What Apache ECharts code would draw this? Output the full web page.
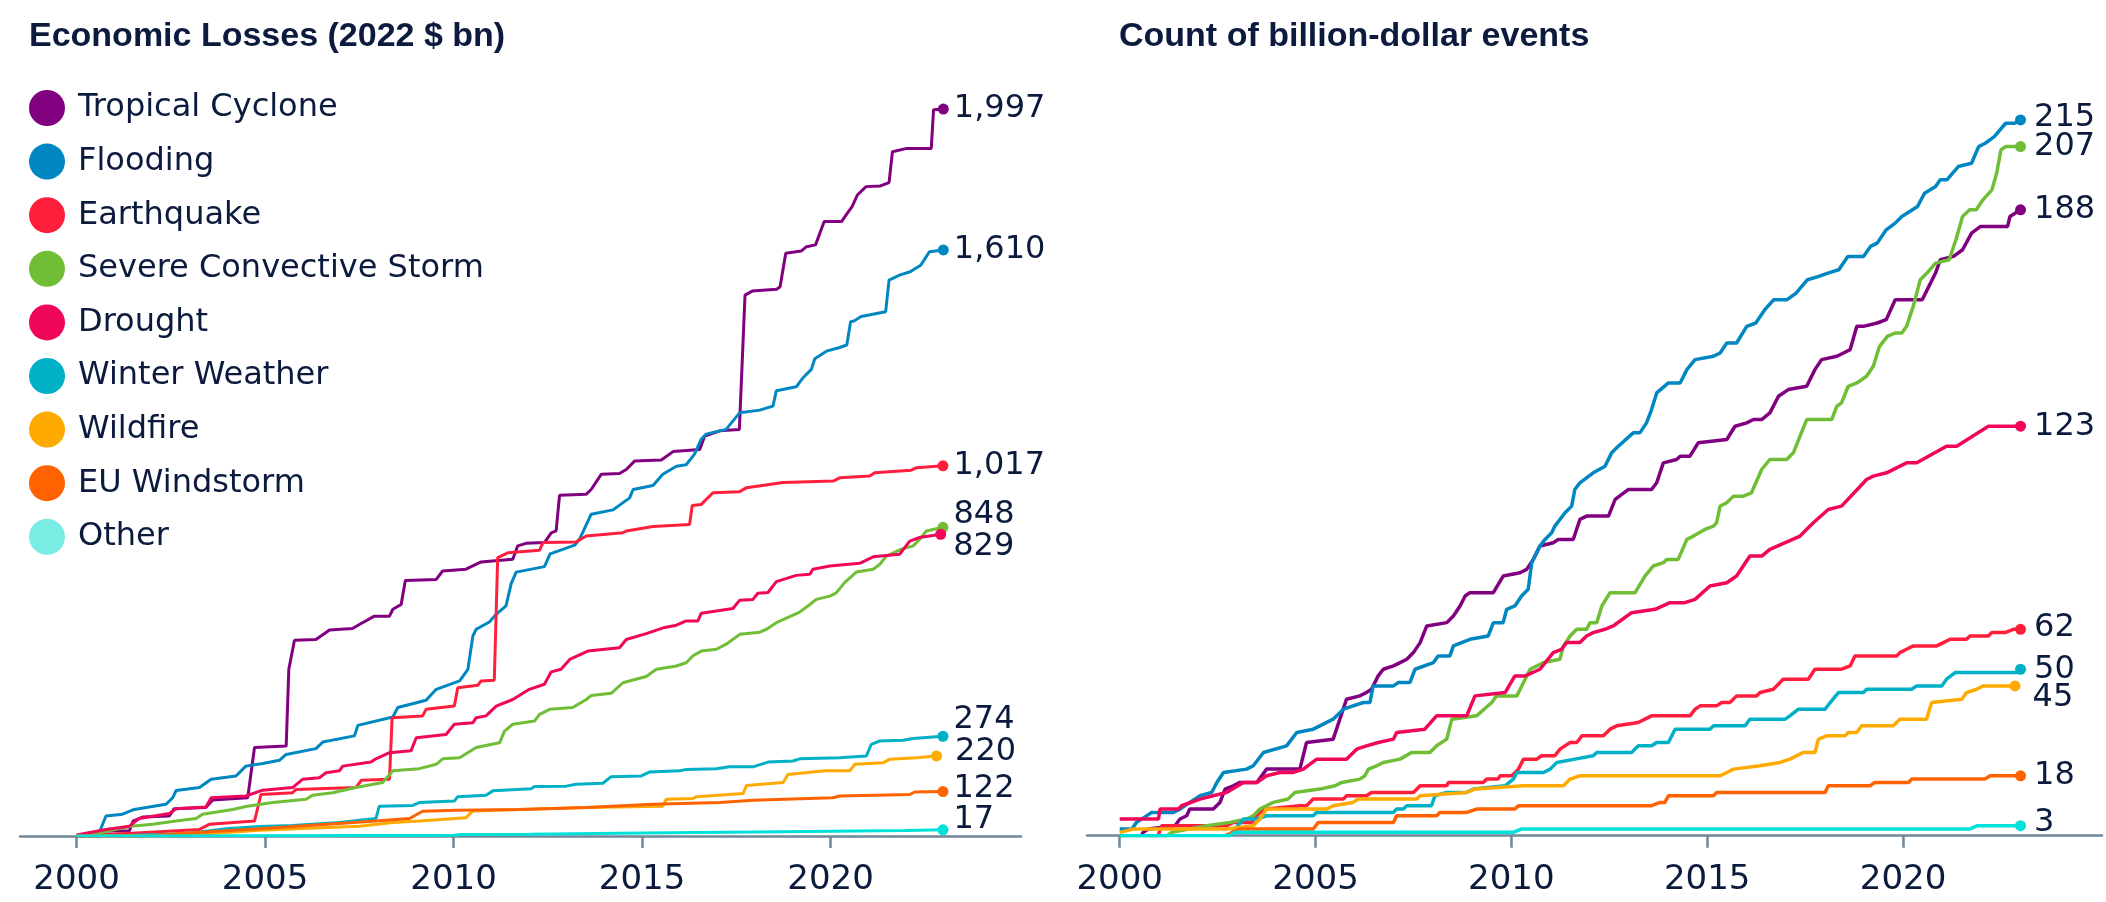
<!DOCTYPE html>
<html>
<head>
<meta charset="utf-8">
<title>Economic losses and billion-dollar events</title>
<script src="https://cdn.jsdelivr.net/npm/echarts@6/dist/echarts.min.js"></script>
<style>
  html, body { margin: 0; padding: 0; background: #fff; }
  #chart { width: 2106px; height: 902px; }
</style>
</head>
<body>
<div id="chart"></div>
<script>
var chart = echarts.init(document.getElementById('chart'));

// perils, same order in both panels
var perilNames = ['Tropical Cyclone', 'Flooding', 'Earthquake', 'Severe Convective Storm', 'Drought',
  'Winter Weather', 'Wildfire', 'EU Windstorm', 'Other'];
var perilColors = ['#800080', '#0087c1', '#ff1f3d', '#6fbe36', '#f0065a',
  '#00b0c6', '#ffaa00', '#ff6200', '#00e1d9'];
var yearTicks = [2000, 2005, 2010, 2015, 2020];

// cumulative economic losses, 2022 $ bn  [year, value]
var lossTropicalCyclone = [[2000,0],[2000.56,0],[2000.65,14],[2001.40,14],[2001.50,41],[2001.75,52],[2002.46,55],[2002.59,75],[2003.43,78],[2003.61,99],[2004.54,105],[2004.72,243],[2005.56,247],[2005.63,458],[2005.78,538],[2006.35,540],[2006.71,566],[2007.32,570],[2007.50,581],[2007.90,604],[2008.30,604],[2008.39,623],[2008.61,636],[2008.72,702],[2009.54,705],[2009.71,728],[2010.33,733],[2010.73,753],[2011.57,760],[2011.70,797],[2011.92,804],[2012.41,806],[2012.59,833],[2012.72,838],[2012.81,936],[2013.52,939],[2013.65,952],[2013.92,994],[2014.40,996],[2014.58,1007],[2014.80,1030],[2015.51,1033],[2015.82,1056],[2016.53,1062],[2016.66,1099],[2017.06,1113],[2017.58,1117],[2017.73,1486],[2017.92,1497],[2018.57,1502],[2018.66,1509],[2018.81,1601],[2019.22,1607],[2019.36,1619],[2019.60,1624],[2019.83,1688],[2020.29,1688],[2020.43,1709],[2020.57,1729],[2020.71,1761],[2020.94,1784],[2021.32,1786],[2021.55,1795],[2021.64,1880],[2022.02,1889],[2022.67,1889],[2022.73,1995],[2022.99,1997]];
var lossFlooding = [[2000,0],[2000.60,9],[2000.78,55],[2001.22,60],[2001.53,73],[2002.37,87],[2002.55,105],[2002.64,125],[2003.26,133],[2003.57,156],[2004.23,165],[2004.49,192],[2004.94,199],[2005.38,208],[2005.56,224],[2006.35,240],[2006.53,258],[2007.37,275],[2007.46,304],[2008.39,327],[2008.52,353],[2009.27,373],[2009.54,403],[2010.16,426],[2010.38,458],[2010.51,549],[2010.60,568],[2010.95,588],[2011.13,609],[2011.39,632],[2011.53,694],[2011.66,725],[2012.41,740],[2012.56,775],[2013.21,799],[2013.34,815],[2013.65,884],[2014.23,896],[2014.67,929],[2014.76,952],[2015.29,963],[2015.55,994],[2015.91,1016],[2016.17,1020],[2016.39,1049],[2016.57,1090],[2016.70,1104],[2017.23,1117],[2017.59,1163],[2018.12,1170],[2018.47,1181],[2018.56,1223],[2019.09,1234],[2019.27,1259],[2019.49,1282],[2019.58,1311],[2019.89,1332],[2020.24,1342],[2020.43,1349],[2020.53,1413],[2020.62,1415],[2020.81,1427],[2021.46,1440],[2021.55,1527],[2021.83,1541],[2022.11,1550],[2022.39,1568],[2022.48,1582],[2022.62,1605],[2022.99,1610]];
var lossEarthquake = [[2000,0],[2000.96,5],[2002.19,12],[2003.26,18],[2003.52,32],[2004.72,41],[2004.89,114],[2005.73,119],[2005.82,128],[2007.41,133],[2007.55,153],[2008.30,156],[2008.37,325],[2009.18,330],[2009.27,348],[2010.02,357],[2010.11,407],[2010.64,414],[2010.73,426],[2011.08,428],[2011.17,765],[2011.44,778],[2012.28,785],[2012.37,806],[2013.25,808],[2013.52,824],[2014.49,833],[2014.58,838],[2015.29,850],[2016.26,856],[2016.33,908],[2016.57,911],[2016.88,943],[2017.59,946],[2017.77,957],[2018.74,971],[2020.07,975],[2020.24,984],[2021.04,989],[2021.17,998],[2022.14,1005],[2022.28,1012],[2022.98,1017]];
var lossConvectiveStorm = [[2000,0],[2000.42,5],[2001.44,27],[2002.02,32],[2002.64,41],[2003.17,48],[2003.34,60],[2004.14,73],[2004.49,81],[2005.20,92],[2006.09,101],[2006.26,112],[2006.79,119],[2007.41,133],[2008.12,147],[2008.39,179],[2009.09,185],[2009.54,197],[2009.71,212],[2010.16,215],[2010.60,243],[2011.22,256],[2011.35,288],[2011.57,307],[2012.15,316],[2012.28,334],[2012.55,348],[2013.16,353],[2013.52,375],[2013.65,386],[2014.18,392],[2014.49,421],[2015.11,438],[2015.38,458],[2015.91,467],[2016.17,476],[2016.35,495],[2016.57,508],[2016.97,513],[2017.23,527],[2017.59,554],[2018.12,560],[2018.30,568],[2018.56,586],[2019.18,615],[2019.45,636],[2019.62,650],[2019.98,659],[2020.15,668],[2020.37,696],[2020.68,725],[2021.13,733],[2021.30,746],[2021.48,769],[2021.88,788],[2022.19,797],[2022.36,815],[2022.54,838],[2022.98,848]];
var lossDrought = [[2000,3],[2000.78,18],[2001.40,27],[2001.66,48],[2002.46,62],[2002.64,75],[2003.43,80],[2003.57,105],[2004.49,110],[2004.94,126],[2005.73,133],[2006.00,156],[2006.44,160],[2006.62,174],[2006.97,179],[2007.06,192],[2007.81,203],[2007.94,212],[2008.30,229],[2008.87,234],[2009.01,270],[2009.80,279],[2010.02,307],[2010.51,311],[2010.60,325],[2010.86,330],[2011.13,357],[2011.57,375],[2012.01,403],[2012.41,417],[2012.59,451],[2012.85,458],[2013.08,485],[2013.56,508],[2014.40,517],[2014.58,540],[2015.11,556],[2015.60,573],[2015.91,579],[2016.17,591],[2016.48,591],[2016.57,612],[2017.41,625],[2017.59,648],[2017.94,650],[2018.07,667],[2018.34,669],[2018.56,699],[2019.09,716],[2019.45,719],[2019.53,733],[2019.98,742],[2020.77,749],[2021.13,767],[2021.83,774],[2022.10,810],[2022.36,820],[2022.92,829]];
var lossWinterWeather = [[2000,0],[2001.50,2],[2002.90,6],[2003.96,20],[2004.85,26],[2005.73,29],[2006.97,37],[2007.94,48],[2008.03,82],[2008.92,84],[2009.09,92],[2010.02,96],[2010.11,108],[2010.86,112],[2011.04,124],[2012.06,130],[2012.15,136],[2012.99,137],[2013.25,142],[2013.96,145],[2014.18,163],[2014.98,165],[2015.20,176],[2015.99,179],[2016.17,183],[2016.97,185],[2017.32,190],[2017.94,190],[2018.34,203],[2019.00,206],[2019.18,212],[2020.24,215],[2020.95,220],[2021.08,252],[2021.30,261],[2021.92,263],[2022.19,268],[2022.98,274]];
var lossWildfire = [[2000,0],[2002.90,2],[2004.85,16],[2007.50,27],[2008.39,37],[2009.09,41],[2010.33,50],[2010.51,69],[2011.75,73],[2013.52,78],[2015.55,82],[2015.64,101],[2016.35,103],[2016.44,108],[2017.68,117],[2017.77,139],[2018.74,147],[2018.87,169],[2019.84,179],[2020.51,179],[2020.64,197],[2021.39,201],[2021.57,211],[2022.28,215],[2022.81,220]];
var lossWindstorm = [[2000,0],[2001.75,0],[2003.08,9],[2004.85,20],[2007.06,35],[2007.94,41],[2008.83,48],[2009.18,68],[2010.07,71],[2011.75,73],[2013.52,78],[2015.29,87],[2017.06,92],[2017.94,98],[2020.06,105],[2020.24,110],[2022.10,114],[2022.23,121],[2022.98,122]];
var lossOther = [[2000,0],[2005,1],[2010,2],[2010.2,4],[2012,5],[2015,8],[2018,11],[2020,13],[2022,15],[2022.98,17]];

// cumulative count of billion-dollar events  [year, count]
var countTropicalCyclone = [[2000.55,0],[2000.60,1],[2000.73,2],[2001.41,3],[2001.54,5],[2001.71,6],[2001.79,8],[2002.39,8],[2002.56,10],[2002.69,14],[2002.90,15],[2003.07,16],[2003.50,16],[2003.75,20],[2004.60,20],[2004.77,28],[2005.45,29],[2005.62,35],[2005.79,41],[2006.13,42],[2006.30,43],[2006.43,44],[2006.60,48],[2006.73,50],[2006.99,51],[2007.16,52],[2007.33,53],[2007.50,55],[2007.67,58],[2007.84,63],[2008.35,64],[2008.52,66],[2008.69,69],[2008.82,72],[2008.94,73],[2009.54,73],[2009.79,78],[2010.22,79],[2010.39,80],[2010.56,83],[2010.73,87],[2011.07,88],[2011.20,89],[2011.58,89],[2011.75,95],[2011.92,96],[2012.48,96],[2012.65,101],[2012.99,104],[2013.58,104],[2013.71,106],[2013.88,112],[2014.22,113],[2014.31,114],[2014.56,114],[2014.77,118],[2015.50,119],[2015.71,123],[2016.01,124],[2016.18,125],[2016.39,125],[2016.60,127],[2016.82,132],[2017.07,134],[2017.54,135],[2017.75,140],[2017.92,143],[2018.31,144],[2018.48,145],[2018.65,146],[2018.82,153],[2018.99,153],[2019.34,154],[2019.57,155],[2019.80,161],[2020.49,161],[2020.66,165],[2020.83,169],[2020.95,173],[2021.29,174],[2021.52,176],[2021.75,181],[2021.98,183],[2022.67,183],[2022.73,186],[2023.00,188]];
var countFlooding = [[2000,2],[2000.31,2],[2000.43,4],[2000.82,7],[2001.37,7],[2001.54,8],[2001.79,10],[2002.05,12],[2002.35,13],[2002.48,16],[2002.65,19],[2003.24,20],[2003.41,21],[2003.67,25],[2004.26,27],[2004.52,31],[2004.94,32],[2005.11,33],[2005.45,35],[2005.71,38],[2006.22,40],[2006.39,40],[2006.47,45],[2006.99,45],[2007.11,46],[2007.41,46],[2007.54,50],[2008.01,52],[2008.13,54],[2008.43,54],[2008.52,57],[2008.94,59],[2009.41,60],[2009.54,64],[2009.79,64],[2009.88,68],[2010.09,69],[2010.26,72],[2010.43,74],[2010.52,82],[2010.73,87],[2010.86,89],[2011.03,91],[2011.11,93],[2011.37,97],[2011.54,99],[2011.62,104],[2011.75,106],[2012.09,109],[2012.39,111],[2012.56,115],[2012.73,117],[2013.11,121],[2013.28,121],[2013.45,124],[2013.58,128],[2013.71,133],[2014.01,136],[2014.31,136],[2014.48,140],[2014.69,143],[2015.16,144],[2015.33,145],[2015.50,148],[2015.75,148],[2016.01,153],[2016.24,154],[2016.47,158],[2016.70,161],[2017.04,161],[2017.27,163],[2017.56,167],[2017.85,168],[2018.08,169],[2018.36,170],[2018.59,174],[2018.99,174],[2019.17,177],[2019.34,178],[2019.57,182],[2019.80,184],[2019.97,186],[2020.37,189],[2020.55,193],[2020.83,195],[2020.95,197],[2021.12,197],[2021.41,201],[2021.75,202],[2021.93,207],[2022.10,208],[2022.33,210],[2022.62,214],[2022.85,214],[2023.00,215]];
var countEarthquake = [[2000.98,0],[2001.07,3],[2002.73,3],[2002.90,4],[2003.37,4],[2003.50,6],[2003.58,7],[2003.75,8],[2004.60,9],[2004.77,9],[2004.94,11],[2005.71,11],[2005.79,12],[2006.30,12],[2006.43,13],[2007.50,13],[2007.67,15],[2008.35,15],[2008.39,16],[2009.28,16],[2009.37,17],[2009.66,17],[2009.71,18],[2010.01,18],[2010.18,20],[2010.31,23],[2010.65,23],[2010.77,24],[2011.11,24],[2011.24,26],[2011.50,28],[2011.67,28],[2011.80,30],[2012.35,30],[2012.52,32],[2012.69,33],[2013.24,34],[2013.41,35],[2013.58,36],[2014.56,36],[2014.69,38],[2014.82,39],[2015.24,39],[2015.37,40],[2015.58,40],[2015.75,42],[2016.26,42],[2016.35,43],[2016.69,44],[2016.94,47],[2017.58,47],[2017.75,50],[2018.43,50],[2018.65,51],[2018.77,54],[2019.84,54],[2019.92,55],[2020.09,56],[2020.26,57],[2020.86,57],[2021.03,58],[2021.20,59],[2021.62,59],[2021.71,60],[2022.18,60],[2022.26,61],[2022.60,61],[2022.82,62],[2023.00,62]];
var countConvectiveStorm = [[2000,0],[2001.20,0],[2001.33,1],[2002.22,3],[2002.82,4],[2003.24,5],[2003.41,6],[2003.58,8],[2003.92,10],[2004.30,11],[2004.47,13],[2005.11,14],[2005.50,15],[2005.67,16],[2006.13,17],[2006.26,18],[2006.35,20],[2006.56,21],[2006.73,22],[2007.16,23],[2007.45,25],[2007.92,25],[2008.09,27],[2008.35,29],[2008.48,35],[2009.11,36],[2009.50,40],[2009.62,42],[2010.14,42],[2010.31,46],[2010.48,50],[2010.82,52],[2011.24,53],[2011.33,57],[2011.50,60],[2011.67,62],[2011.92,62],[2012.01,64],[2012.18,64],[2012.31,69],[2012.52,73],[2013.16,73],[2013.41,78],[2013.62,81],[2013.88,82],[2013.97,83],[2014.26,83],[2014.48,89],[2014.65,90],[2014.94,92],[2015.16,93],[2015.24,94],[2015.33,99],[2015.50,100],[2015.67,102],[2015.92,102],[2016.13,103],[2016.39,110],[2016.60,113],[2017.03,113],[2017.20,115],[2017.37,120],[2017.54,125],[2018.18,125],[2018.31,129],[2018.43,130],[2018.60,135],[2018.82,136],[2019.07,138],[2019.24,141],[2019.40,147],[2019.60,150],[2019.80,151],[2019.97,151],[2020.09,153],[2020.26,159],[2020.44,167],[2020.61,169],[2020.83,172],[2021.18,173],[2021.35,179],[2021.52,186],[2021.70,188],[2021.87,188],[2022.04,191],[2022.27,194],[2022.39,199],[2022.50,206],[2022.62,207],[2023.00,207]];
var countDrought = [[2000,5],[2000.99,5],[2001.03,8],[2001.50,8],[2001.58,9],[2002.05,11],[2002.39,12],[2002.73,13],[2003.16,16],[2003.50,16],[2003.75,18],[2004.09,19],[2004.43,19],[2004.69,20],[2005.03,23],[2005.79,23],[2006.05,26],[2006.30,27],[2006.60,28],[2006.99,29],[2007.07,31],[2007.79,32],[2008.09,36],[2008.86,36],[2009.07,42],[2009.84,43],[2010.09,48],[2010.35,48],[2010.73,50],[2011.07,55],[2011.28,56],[2011.41,58],[2011.75,58],[2011.92,60],[2012.09,61],[2012.39,62],[2012.60,63],[2013.07,67],[2013.67,68],[2014.05,70],[2014.43,70],[2014.69,71],[2015.07,75],[2015.50,76],[2015.75,78],[2016.09,84],[2016.39,84],[2016.60,86],[2017.37,90],[2017.71,94],[2018.09,98],[2018.43,99],[2019.07,107],[2019.24,108],[2019.58,109],[2020.09,112],[2020.35,112],[2021.11,117],[2021.37,117],[2022.18,123],[2023.00,123]];
var countWinterWeather = [[2002.80,0],[2003.16,5],[2003.50,5],[2003.75,6],[2004.94,6],[2005.03,7],[2006.99,7],[2007.07,8],[2007.24,8],[2007.33,9],[2007.96,9],[2008.05,12],[2008.35,13],[2008.86,13],[2009.03,14],[2009.84,15],[2010.05,17],[2010.14,19],[2010.82,19],[2010.99,20],[2011.16,22],[2011.62,23],[2012.09,24],[2012.18,25],[2013.07,25],[2013.24,27],[2013.58,27],[2013.71,28],[2014.01,28],[2014.18,32],[2015.07,32],[2015.16,33],[2015.97,33],[2016.09,35],[2016.99,35],[2017.11,36],[2017.33,38],[2018.01,38],[2018.14,40],[2018.35,43],[2018.99,43],[2019.07,44],[2020.22,44],[2020.35,45],[2020.99,45],[2021.11,47],[2021.33,49],[2022.90,49],[2023.00,50]];
var countWildfire = [[2000,1],[2000.35,2],[2002.73,2],[2003.41,3],[2003.58,5],[2003.75,8],[2005.28,8],[2005.45,9],[2005.96,10],[2006.09,11],[2007.58,11],[2007.67,12],[2008.86,13],[2009.07,14],[2010.31,15],[2011.33,15],[2011.50,17],[2011.75,18],[2015.33,18],[2015.50,19],[2015.67,20],[2016.35,21],[2016.86,22],[2017.11,23],[2017.45,25],[2017.75,25],[2017.84,29],[2018.05,30],[2018.52,30],[2018.60,31],[2018.82,31],[2018.94,33],[2019.75,33],[2019.92,35],[2020.60,35],[2020.73,40],[2021.50,41],[2021.62,43],[2021.88,44],[2022.05,45],[2022.86,45]];
var countWindstorm = [[2002.69,0],[2003.07,2],[2004.94,2],[2005.07,4],[2006.99,4],[2007.07,6],[2008.09,6],[2008.18,7],[2008.86,7],[2009.11,8],[2010.09,8],[2010.18,9],[2013.58,9],[2013.80,10],[2013.92,10],[2014.01,12],[2015.16,12],[2015.24,13],[2018.01,13],[2018.09,15],[2019.16,15],[2019.28,16],[2020.14,16],[2020.22,17],[2022.09,17],[2022.22,18],[2023.00,18]];
var countOther = [[2000,0],[2002.80,0],[2002.95,1],[2010.05,1],[2010.25,2],[2021.70,2],[2021.90,3],[2023.00,3]];

var lossData = [lossTropicalCyclone, lossFlooding, lossEarthquake, lossConvectiveStorm, lossDrought,
  lossWinterWeather, lossWildfire, lossWindstorm, lossOther];
var countData = [countTropicalCyclone, countFlooding, countEarthquake, countConvectiveStorm, countDrought,
  countWinterWeather, countWildfire, countWindstorm, countOther];

// nudges for the end labels so they don't collide  [dx, dy]
var lossLabelNudge = [[0,0],[0,0],[0,0],[0,-13],[2,12],[0,-17],[8,-4],[0,-3],[0,-10]];
var countLabelNudge = [[0,0],[0,-2],[0,-2],[0,0],[0,0],[0,0],[4,12],[0,0],[0,-3]];

var ink = '#0b1a3d';
var axisGrey = '#70889a';
var bodyFont = 'DejaVu Sans';

function lineSeries(list, axis, width) {
  return list.map(function(d, i) {
    return {
      name: perilNames[i],
      type: 'line',
      xAxisIndex: axis,
      yAxisIndex: axis,
      data: d,
      symbol: 'none',
      showSymbol: false,
      lineStyle: { color: perilColors[i], width: width },
      itemStyle: { color: perilColors[i] },
      emphasis: { disabled: true },
      z: 3
    };
  });
}

function endDots(list, axis, nudge, dist) {
  return {
    type: 'scatter',
    xAxisIndex: axis,
    yAxisIndex: axis,
    symbolSize: 11,
    silent: true,
    z: 5,
    data: list.map(function(d, i) {
      return {
        value: d[d.length - 1],
        itemStyle: { color: perilColors[i], opacity: 1 },
        label: { offset: nudge[i] }
      };
    }),
    itemStyle: { opacity: 1 },
    label: {
      show: true,
      position: 'right',
      distance: dist,
      color: ink,
      opacity: 1,
      fontSize: 32,
      fontFamily: bodyFont,
      formatter: function(p) { return p.value[1].toLocaleString('en-US'); }
    }
  };
}

function yearAxis(grid, min, max) {
  return {
    gridIndex: grid,
    type: 'value',
    min: min,
    max: max,
    axisLine: { lineStyle: { color: axisGrey, width: 2.5 } },
    axisTick: { show: true, length: 12, customValues: yearTicks, lineStyle: { color: axisGrey, width: 2.5 } },
    axisLabel: {
      customValues: yearTicks,
      margin: 27,
      fontSize: 34,
      color: ink,
      fontFamily: bodyFont,
      formatter: function(v) { return String(v); }
    },
    splitLine: { show: false }
  };
}

var option = {
  animation: false,
  backgroundColor: '#fff',
  title: [{
    text: 'Economic Losses (2022 $ bn)',
    left: 24,
    top: 15,
    textStyle: { fontSize: 34, fontWeight: 'bold', fontFamily: 'Liberation Sans', color: ink }
  }, {
    text: 'Count of billion-dollar events',
    left: 1114,
    top: 15,
    textStyle: { fontSize: 34, fontWeight: 'bold', fontFamily: 'Liberation Sans', color: ink }
  }],
  legend: {
    orient: 'vertical',
    left: 24,
    top: 85,
    icon: 'circle',
    itemWidth: 36,
    itemHeight: 36,
    itemGap: 17.6,
    selectedMode: false,
    textStyle: { fontSize: 32, color: ink, fontFamily: bodyFont, padding: [0, 0, 0, 8] },
    data: perilNames.map(function(n) {
      return n === 'Other' ? { name: n, itemStyle: { color: '#7aece4' } } : { name: n };
    })
  },
  grid: [
    { left: 20, width: 1001, top: 35.2, height: 800.8 },
    { left: 1087, width: 1015, top: 36.7, height: 799 }
  ],
  xAxis: [yearAxis(0, 1998.5, 2025.05), yearAxis(1, 1999.165, 2025.08)],
  yAxis: [
    { gridIndex: 0, type: 'value', min: 0, max: 2200, show: false },
    { gridIndex: 1, type: 'value', min: 0, max: 240, show: false }
  ],
  series: []
};

option.series = option.series
  .concat(lineSeries(lossData, 0, 3))
  .concat(lineSeries(countData, 1, 3.5))
  .concat([endDots(lossData, 0, lossLabelNudge, 5), endDots(countData, 1, countLabelNudge, 8)]);

chart.setOption(option);
</script>
</body>
</html>
